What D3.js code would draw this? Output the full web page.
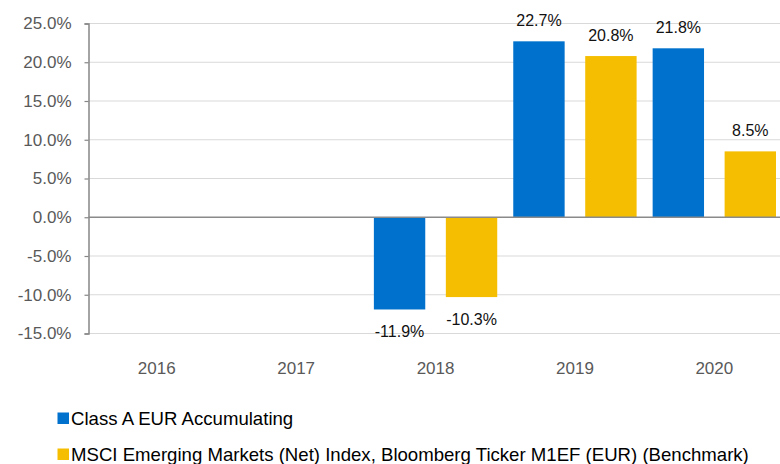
<!DOCTYPE html>
<html>
<head>
<meta charset="utf-8">
<script src="https://cdn.jsdelivr.net/npm/d3@7"></script>
<style>
  body { margin: 0; background: #fff; }
  svg { display: block; font-family: "Liberation Sans", Arial, sans-serif; }
</style>
</head>
<body>
<div class="container"></div>
<script>
const width = 780;
const height = 464;
const margin = { top: 23.5, bottom: 130.5, left: 88.5, right: -4 }

const years = ["2016", "2017", "2018", "2019", "2020"];
const seriesNames = ["Class A EUR Accumulating",
    "MSCI Emerging Markets (Net) Index, Bloomberg Ticker M1EF (EUR) (Benchmark)"];
const classA = [null, null, -11.9, 22.7, 21.8];
const benchmark = [null, null, -10.3, 20.8, 8.5];
const yTicks = [-15, -10, -5, 0, 5, 10, 15, 20, 25];
const colors = ["#0072ce", "#f5be00"];

const svg = d3.select(".container")
    .append("svg")
    .attr("width", width)
    .attr("height", height);

const xScale = d3.scaleBand()
    .domain(years)
    .range([margin.left - 1.4, width - margin.right])
    .paddingInner(0.115)
    .paddingOuter(0.0574);

const xInner = d3.scaleBand()
    .domain([0, 1])
    .range([0, xScale.bandwidth()])
    .paddingInner(0.286);

const yScale = d3.scaleLinear()
    .domain([-15, 25])
    .range([height - margin.bottom, margin.top]);

// gridlines
svg.append("g")
    .selectAll("line")
    .data(yTicks.filter(d => d !== 0))
    .join("line")
    .attr("x1", margin.left)
    .attr("x2", width)
    .attr("y1", d => yScale(d))
    .attr("y2", d => yScale(d))
    .attr("stroke", "#d9d9d9")
    .attr("stroke-width", 1.2);

// bars
const rows = years.map((y, i) => [classA[i], benchmark[i]]);

const groups = svg.append("g")
    .selectAll("g")
    .data(rows)
    .join("g")
    .attr("transform", (d, i) => `translate(${xScale(years[i])},0)`);

groups.selectAll("rect")
    .data(d => d.map((v, k) => ({ v, k })).filter(e => e.v !== null))
    .join("rect")
    .attr("x", e => xInner(e.k))
    .attr("width", xInner.bandwidth())
    .attr("y", e => yScale(Math.max(0, e.v)))
    .attr("height", e => Math.abs(yScale(e.v) - yScale(0)))
    .attr("fill", e => colors[e.k]);

groups.selectAll("text")
    .data(d => d.map((v, k) => ({ v, k })).filter(e => e.v !== null))
    .join("text")
    .attr("x", e => xInner(e.k) + xInner.bandwidth() / 2)
    .attr("y", e => e.v >= 0 ? yScale(e.v) - 15 : yScale(e.v) + 28)
    .attr("text-anchor", "middle")
    .attr("font-size", "16px")
    .attr("fill", "#111")
    .text(e => e.v.toFixed(1) + "%");

// zero line
svg.append("line")
    .attr("x1", margin.left)
    .attr("x2", width)
    .attr("y1", yScale(0))
    .attr("y2", yScale(0))
    .attr("stroke", "#8a8a8a")
    .attr("stroke-width", 1.5);

// y axis
const yAxis = d3.axisLeft(yScale)
    .tickValues(yTicks)
    .tickSize(4)
    .tickPadding(13)
    .tickFormat(d => d.toFixed(1) + "%");

const yG = svg.append("g")
    .attr("transform", `translate(${margin.left},0)`)
    .call(yAxis);
yG.select(".domain").attr("stroke", "#868686").attr("stroke-width", 1.5);
yG.selectAll(".tick line").attr("stroke", "#868686").attr("stroke-width", 1.2);
yG.selectAll(".tick text")
    .attr("font-size", "17px")
    .attr("font-family", "Liberation Sans, Arial, sans-serif")
    .attr("fill", "#595959");

// x labels
const xAxis = d3.axisBottom(xScale).tickSize(0).tickPadding(28);
const xG = svg.append("g")
    .attr("transform", `translate(0,${yScale(-15)})`)
    .call(xAxis);
xG.select(".domain").remove();
xG.selectAll(".tick text")
    .attr("font-size", "17px")
    .attr("font-family", "Liberation Sans, Arial, sans-serif")
    .attr("fill", "#595959");

// legend
const legend = svg.append("g")
    .selectAll("g")
    .data(seriesNames)
    .join("g")
    .attr("transform", (d, i) => `translate(57.5,${412.5 + i * 36})`);

legend.append("rect")
    .attr("width", 11.5)
    .attr("height", 11.5)
    .attr("fill", (d, i) => colors[i]);

legend.append("text")
    .attr("x", 13.5)
    .attr("y", 12.5)
    .attr("font-size", "18.6px")
    .attr("fill", "#000")
    .text(d => d);
</script>
</body>
</html>
